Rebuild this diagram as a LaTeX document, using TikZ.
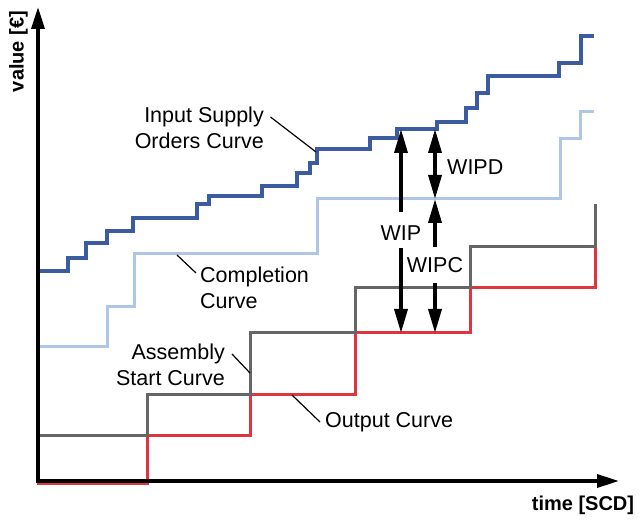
\documentclass[tikz,border=0pt]{standalone}
\usepackage{fontspec}
\setmainfont{Liberation Sans}
\usepackage{tikz}
\usetikzlibrary{arrows.meta}

\definecolor{inputBlue}{RGB}{59,92,160}
\definecolor{complBlue}{RGB}{176,198,230}
\definecolor{startGray}{RGB}{102,102,102}
\definecolor{outRed}{RGB}{224,52,62}

\begin{document}
\begin{tikzpicture}[
    x=1pt, y=1pt,
    font=\fontsize{21.5}{26}\selectfont,
    axis/.style={line width=3.5pt, {Triangle[length=22pt, width=13pt]}-{Triangle[length=22pt, width=13pt]}, draw=black},
    curveInput/.style={line width=3.5pt, draw=inputBlue},
    curveCompl/.style={line width=3pt, draw=complBlue},
    curveStart/.style={line width=3pt, draw=startGray},
    curveOut/.style={line width=3pt, draw=outRed},
    leader/.style={line width=1.2pt, draw=black},
    wipArrow/.style={line width=3.5pt, -{Triangle[length=24pt, width=13pt]}},
    wipBoth/.style={line width=3.5pt, {Triangle[length=24pt, width=13pt]}-{Triangle[length=24pt, width=13pt]}},
    axisLabel/.style={font=\fontsize{20}{24}\selectfont\bfseries},
    curveLabel/.style={inner sep=0pt}
]
    \useasboundingbox (-38,-38) rectangle (604,481);

    % Step curves
    \draw [curveOut] (-1,-2.5) -| (109,45) -| (212,86) -| (317,148) -| (432,193) -| (557,234);
    \draw [curveStart] (2,45) -| (109,86) -| (212,148) -| (317,193) -| (432,234) -| (557,277);
    \draw [curveCompl] (2,134) -| (69,174) -| (96,227) -| (279,282) -| (522,342) -| (542,369) -- (556,369);
    \draw [curveInput] (2,210) -| (30,223) -| (48,238) -| (69,250) -| (95,263) -| (159,277)
        -| (171,285) -| (224,295) -| (259,308) -| (272,318) -| (279,332) -| (332,343)
        -| (359,352) -| (399,359) -| (428,373) -| (439,388) -| (450,405) -| (521,418)
        -| (543,445) -- (556,445);

    % Axes
    \coordinate (origin) at (0,0);
    \coordinate (yEnd) at (0,474);
    \coordinate (xEnd) at (581,0);
    \draw [axis] (yEnd) -- (origin) -- (xEnd);
    \node [axisLabel, rotate=90] (lblValue) at (-19.5,429.5) {value [€]};
    \node [axisLabel] (lblTime) at (545,-24) {time [SCD]};

    % Curve labels
    \node [curveLabel, anchor=east, align=right] (lblInput) at (226,353.5) {Input Supply\\Orders Curve};
    \node [curveLabel, anchor=west, align=left] (lblCompl) at (162,193.5) {Completion\\Curve};
    \node [curveLabel, anchor=east, align=right] (lblStart) at (187,116) {Assembly\\Start Curve};
    \node [curveLabel, anchor=west] (lblOut) at (287,59) {Output Curve};

    \coordinate (inputFoot) at (232.5,364);
    \coordinate (inputTip) at (278,329);
    \coordinate (complFoot) at (158,208);
    \coordinate (complTip) at (139,226);
    \coordinate (startFoot) at (194,127);
    \coordinate (startTip) at (212,108);
    \coordinate (outFoot) at (282,59);
    \coordinate (outTip) at (254,86);
    \foreach \a/\b in {inputFoot/inputTip, complFoot/complTip, startFoot/startTip, outFoot/outTip}
        \draw [leader] (\a) -- (\b);

    % Work in process
    \coordinate (wipTop) at (363,352);
    \coordinate (wipBot) at (363,148);
    \coordinate (wipdTop) at (397,352);
    \coordinate (wipdMid) at (397,282);
    \coordinate (wipcBot) at (397,148);

    \node [inner xsep=2pt, inner ysep=7pt] (lblWIP) at (363,248) {WIP};
    \draw [wipArrow, shorten <=6.5pt] (lblWIP) -- (wipTop);
    \draw [wipArrow] (lblWIP) -- (wipBot);

    \draw [wipBoth] (wipdTop) -- (wipdMid);
    \node [curveLabel, anchor=west] (lblWIPD) at (409,314) {WIPD};

    \node [inner xsep=2pt, inner ysep=10.5pt] (lblWIPC) at (397,216) {WIPC};
    \draw [wipArrow] (lblWIPC) -- (wipdMid);
    \draw [wipArrow] (lblWIPC) -- (wipcBot);
\end{tikzpicture}
\end{document}
